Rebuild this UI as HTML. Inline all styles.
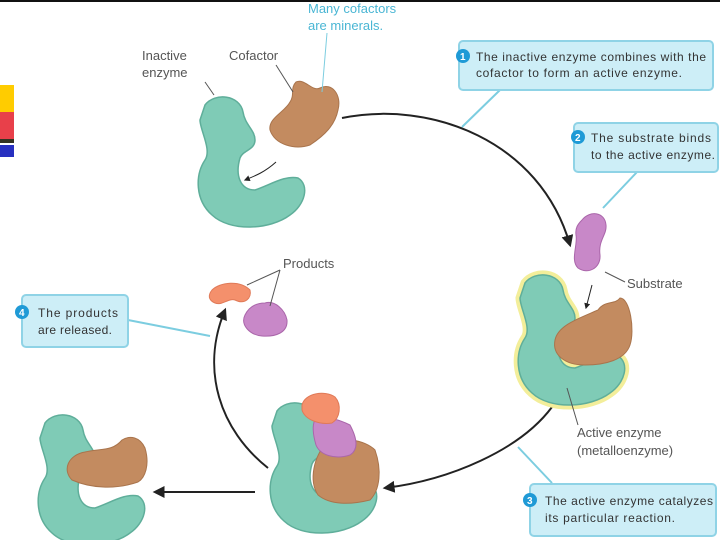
<!DOCTYPE html>
<html><head><style>
html,body{margin:0;padding:0;background:#fff;}
svg{display:block;}
text{font-family:"Liberation Sans",sans-serif;}
</style></head><body>
<svg width="720" height="540" viewBox="0 0 720 540" xmlns="http://www.w3.org/2000/svg">
<defs>
<marker id="ar" viewBox="0 0 10 10" refX="8" refY="5" markerWidth="6" markerHeight="6" orient="auto"><path d="M0,0 L10,5 L0,10 z" fill="#222"/></marker>
<path id="enz" d="M205,105 C215,92 240,95 243,112 C245,125 255,130 255,140 C255,150 243,150 240,158 C235,175 240,190 255,190 C270,185 285,175 298,178 C310,185 305,205 290,215 C270,230 230,232 212,215 C195,200 195,175 205,160 C212,150 200,130 200,120 Z"/>
</defs>
<rect width="720" height="540" fill="#fff"/>
<rect x="0" y="0" width="720" height="2" fill="#111"/>
<!-- left colored bar -->
<rect x="0" y="85" width="14" height="27" fill="#ffcc00"/>
<rect x="0" y="112" width="14" height="27" fill="#e8404a"/>
<rect x="0" y="139" width="14" height="4" fill="#332"/>
<rect x="0" y="145" width="14" height="12" fill="#2830c0"/>

<!-- inactive enzyme -->
<use href="#enz" fill="#7fcbb6" stroke="#5fae9a" stroke-width="1.5"/>
<path d="M296,82 C305,78 312,92 320,88 C332,82 342,95 338,110 C335,125 325,135 310,145 C295,150 275,145 270,130 C268,118 285,112 290,102 C295,95 290,88 296,82Z" fill="#c38b60" stroke="#a9744c"/>
<path d="M276,162 C265,172 255,176 245,180" stroke="#222" fill="none" marker-end="url(#ar)"/>
<text x="142" y="60" font-size="13" fill="#555">Inactive</text>
<text x="142" y="77" font-size="13" fill="#555">enzyme</text>
<line x1="205" y1="82" x2="214" y2="95" stroke="#555"/>
<text x="229" y="60" font-size="13" fill="#555">Cofactor</text>
<line x1="276" y1="65" x2="293" y2="92" stroke="#555"/>
<text x="308" y="13" font-size="13" fill="#4ab6d4">Many cofactors</text>
<text x="308" y="30" font-size="13" fill="#4ab6d4">are minerals.</text>
<line x1="327" y1="33" x2="322" y2="92" stroke="#7ccde0"/>

<!-- cycle arrows -->
<path d="M342,118 C430,100 540,140 570,245" stroke="#222" stroke-width="2" fill="none" marker-end="url(#ar)"/>
<path d="M552,407 C520,450 450,480 385,488" stroke="#222" stroke-width="2" fill="none" marker-end="url(#ar)"/>
<path d="M268,468 C220,430 200,370 225,310" stroke="#222" stroke-width="2" fill="none" marker-end="url(#ar)"/>
<line x1="255" y1="492" x2="155" y2="492" stroke="#222" stroke-width="2" marker-end="url(#ar)"/>

<!-- box 1 -->
<line x1="462" y1="127" x2="500" y2="90" stroke="#7ccde0" stroke-width="2"/>
<rect x="459" y="41" width="254" height="49" rx="4" fill="#cdeef7" stroke="#8fd3e6" stroke-width="2"/>
<circle cx="463" cy="56" r="7" fill="#1f9ad6"/><text x="460" y="60" font-size="10" fill="#fff" font-weight="bold">1</text>
<text x="476" y="61" font-size="12" fill="#333" textLength="230">The inactive enzyme combines with the</text>
<text x="476" y="77" font-size="12" fill="#333" textLength="206">cofactor to form an active enzyme.</text>

<!-- box 2 -->
<line x1="603" y1="208" x2="637" y2="172" stroke="#7ccde0" stroke-width="2"/>
<rect x="574" y="123" width="144" height="49" rx="4" fill="#cdeef7" stroke="#8fd3e6" stroke-width="2"/>
<circle cx="578" cy="137" r="7" fill="#1f9ad6"/><text x="575" y="141" font-size="10" fill="#fff" font-weight="bold">2</text>
<text x="591" y="142" font-size="12" fill="#333" textLength="120">The substrate binds</text>
<text x="591" y="159" font-size="12" fill="#333" textLength="124">to the active enzyme.</text>

<!-- active enzyme -->
<g transform="translate(320,178)">
<use href="#enz" fill="#7fcbb6" stroke="#f3ee9a" stroke-width="9"/>
<use href="#enz" fill="#7fcbb6" stroke="#5fae9a" stroke-width="1.5"/>
</g>
<path d="M598,310 C605,300 615,305 620,298 C630,298 635,330 630,345 C625,360 605,365 585,365 C565,365 552,355 555,340 C558,325 580,318 598,310Z" fill="#c38b60" stroke="#a9744c"/>
<path d="M582,220 C590,210 605,212 606,225 C607,235 598,240 600,255 C601,268 588,275 578,268 C570,260 578,245 576,235 C575,228 578,224 582,220Z" fill="#c888c8" stroke="#aa66aa"/>
<line x1="592" y1="285" x2="586" y2="308" stroke="#222" marker-end="url(#ar)"/>
<line x1="605" y1="272" x2="625" y2="282" stroke="#555"/>
<text x="627" y="288" font-size="13" fill="#555">Substrate</text>
<text x="577" y="437" font-size="13" fill="#555">Active enzyme</text>
<text x="577" y="455" font-size="13" fill="#555">(metalloenzyme)</text>
<line x1="567" y1="388" x2="578" y2="425" stroke="#555"/>

<!-- box 3 -->
<line x1="518" y1="447" x2="552" y2="483" stroke="#7ccde0" stroke-width="2"/>
<rect x="530" y="484" width="186" height="52" rx="4" fill="#cdeef7" stroke="#8fd3e6" stroke-width="2"/>
<circle cx="530" cy="500" r="7" fill="#1f9ad6"/><text x="527" y="504" font-size="10" fill="#fff" font-weight="bold">3</text>
<text x="545" y="505" font-size="12" fill="#333" textLength="168">The active enzyme catalyzes</text>
<text x="545" y="522" font-size="12" fill="#333" textLength="130">its particular reaction.</text>

<!-- bottom right enzyme -->
<g transform="translate(72,306)"><use href="#enz" fill="#7fcbb6" stroke="#5fae9a" stroke-width="1.5"/></g>
<path d="M325,445 C340,435 365,440 375,450 C382,470 380,490 370,500 C350,505 330,505 318,495 C308,480 315,455 325,445Z" fill="#c38b60" stroke="#a9744c"/>
<path d="M315,420 C325,415 340,420 350,425 C358,440 358,450 350,455 C335,460 320,455 316,445 C313,435 312,425 315,420Z" fill="#c888c8" stroke="#aa66aa"/>
<path d="M302,405 C305,393 325,390 335,397 C342,405 340,418 332,423 C320,425 305,420 302,410Z" fill="#f4906c" stroke="#e07a58"/>

<!-- bottom left enzyme -->
<g transform="translate(-160,318)"><use href="#enz" fill="#7fcbb6" stroke="#5fae9a" stroke-width="1.5"/></g>
<path d="M122,440 C130,435 140,437 145,448 C150,465 145,478 138,482 C115,490 90,488 72,480 C62,470 68,455 85,452 C100,448 112,452 122,440Z" fill="#c38b60" stroke="#a9744c"/>

<!-- products -->
<path d="M212,290 C220,282 240,280 250,290 C252,298 245,305 235,300 C228,298 222,306 215,303 C208,300 208,295 212,290Z" fill="#f4906c" stroke="#e07a58"/>
<path d="M245,315 C250,305 258,303 265,303 C275,300 285,310 287,320 C288,333 275,337 262,336 C250,335 240,325 245,315Z" fill="#c888c8" stroke="#aa66aa"/>
<text x="283" y="268" font-size="13" fill="#555">Products</text>
<line x1="280" y1="270" x2="247" y2="285" stroke="#555"/>
<line x1="280" y1="270" x2="270" y2="306" stroke="#555"/>

<!-- box 4 -->
<line x1="128" y1="320" x2="210" y2="336" stroke="#7ccde0" stroke-width="2"/>
<rect x="22" y="295" width="106" height="52" rx="4" fill="#cdeef7" stroke="#8fd3e6" stroke-width="2"/>
<circle cx="22" cy="312" r="7" fill="#1f9ad6"/><text x="19" y="316" font-size="10" fill="#fff" font-weight="bold">4</text>
<text x="38" y="317" font-size="12" fill="#333" textLength="80">The products</text>
<text x="38" y="334" font-size="12" fill="#333" textLength="74">are released.</text>
</svg>
</body></html>
